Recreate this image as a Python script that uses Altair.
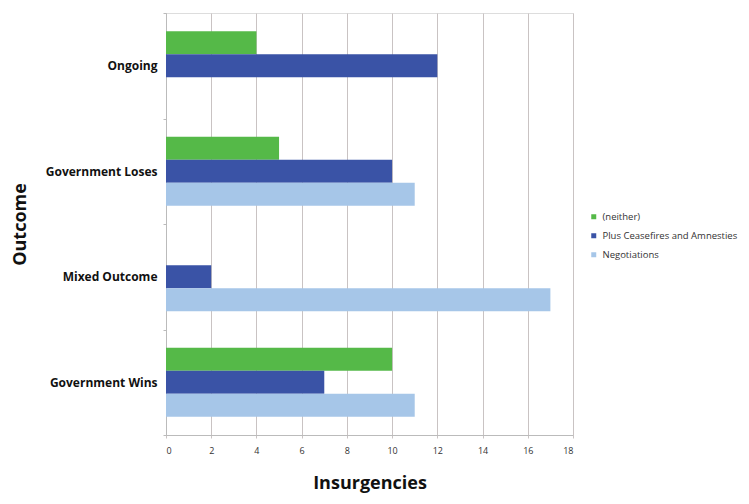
import altair as alt
import pandas as pd

outcomes = ["Ongoing", "Government Loses", "Mixed Outcome", "Government Wins"]
series = ["(neither)", "Plus Ceasefires and Amnesties", "Negotiations"]
neither = [4, 5, 0, 10]
ceasefires = [12, 10, 2, 7]
negotiations = [0, 11, 17, 11]
colors = ["#55b948", "#3a53a6", "#a6c6e8"]
x_ticks = [0, 2, 4, 6, 8, 10, 12, 14, 16, 18]

rows = []
for i, o in enumerate(outcomes):
    for s, vals in zip(series, [neither, ceasefires, negotiations]):
        rows.append({"Outcome": o, "Series": s, "Insurgencies": vals[i]})
df = pd.DataFrame(rows)

font = "Open Sans"

chart = alt.Chart(df).mark_bar(size=23).encode(
    y=alt.Y("Outcome:N", sort=outcomes,
            scale=alt.Scale(paddingInner=0, paddingOuter=0),
            axis=alt.Axis(title="Outcome", titleFont=font, titleFontSize=18,
                          titleFontWeight="bold", titleColor="#111",
                          titleAngle=-90, titleX=-146, titleY=211,
                          titleBaseline="middle", titleAlign="center",
                          labelFont=font, labelFontSize=12, labelFontWeight="bold",
                          labelColor="#111", labelPadding=6,
                          tickBand="extent", tickSize=3, tickColor="#bbb",
                          domainColor="#bbb", grid=False)),
    yOffset=alt.YOffset("Series:N", sort=series,
                        scale=alt.Scale(paddingInner=0, paddingOuter=0.783)),
    x=alt.X("Insurgencies:Q",
            scale=alt.Scale(domain=[0, 18], nice=False),
            axis=alt.Axis(title="Insurgencies", values=x_ticks, titleFont=font,
                          titleFontSize=18, titleFontWeight="bold", titleColor="#111",
                          titlePadding=19,
                          labelFont=font, labelFontSize=9, labelColor="#333",
                          labelPadding=8,
                          tickSize=3, tickColor="#c9c3c3", domainColor="#bbb",
                          grid=True, gridColor="#c9c3c3", gridWidth=1)),
    color=alt.Color("Series:N", sort=series,
                    scale=alt.Scale(domain=series, range=colors),
                    legend=alt.Legend(title=None, orient="none", legendX=423, legendY=199,
                                      symbolType="square", symbolSize=25,
                                      labelFont=font, labelFontSize=9.5, labelColor="#333",
                                      labelOffset=4,
                                      rowPadding=8, symbolStrokeWidth=0)),
).properties(
    width=407, height=422,
    autosize=alt.AutoSizeParams(type="none"),
    padding={"left": 158, "top": 5, "right": 168, "bottom": 61},
).configure_view(stroke=None).configure(background="white")

chart.save("out.html", embed_options={"renderer": "svg", "actions": False})
